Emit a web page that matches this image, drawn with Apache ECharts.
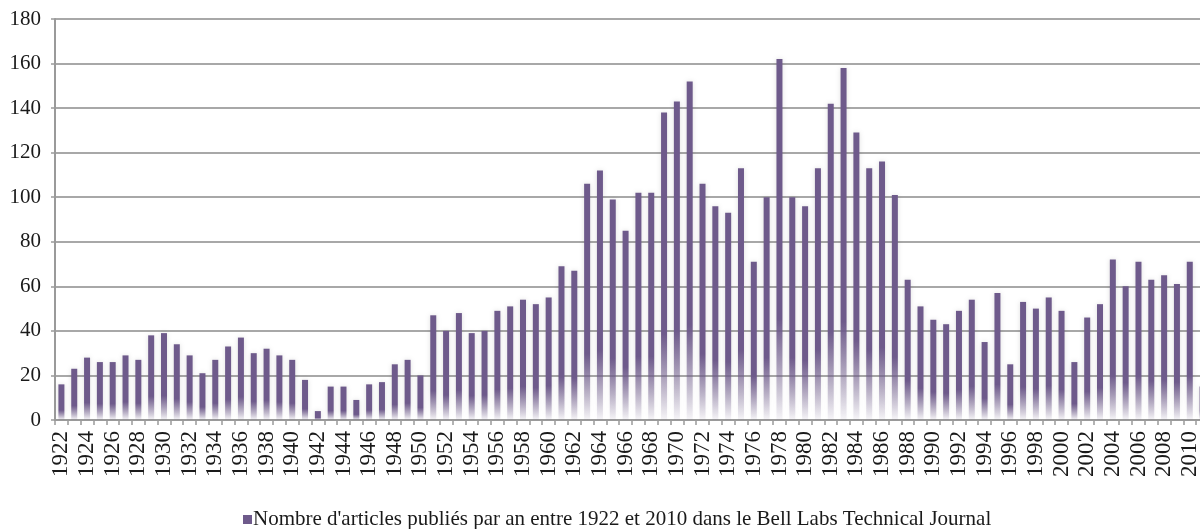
<!DOCTYPE html>
<html>
<head>
<meta charset="utf-8">
<script src="https://cdn.jsdelivr.net/npm/echarts@6/dist/echarts.min.js"></script>
<style>
  html, body { margin: 0; padding: 0; background: #fff; }
  #chart { width: 1200px; height: 529px; }
</style>
</head>
<body>
<div id="chart"></div>
<script>
// années 1922 -> 2011 (la dernière barre est coupée au bord droit)
const years = []
for (let y = 1922; y <= 2011; y++) years.push(String(y))

const articles = [
  16, 23, 28, 26, 26, 29, 27, 38, 39, 34,   // 1922-1931
  29, 21, 27, 33, 37, 30, 32, 29, 27, 18,   // 1932-1941
  4, 15, 15, 9, 16, 17, 25, 27, 20, 47,     // 1942-1951
  40, 48, 39, 40, 49, 51, 54, 52, 55, 69,   // 1952-1961
  67, 106, 112, 99, 85, 102, 102, 138, 143, 152, // 1962-1971
  106, 96, 93, 113, 71, 100, 162, 100, 96, 113,  // 1972-1981
  142, 158, 129, 113, 116, 101, 63, 51, 45, 43,  // 1982-1991
  49, 54, 35, 57, 25, 53, 50, 55, 49, 26,   // 1992-2001
  46, 52, 72, 60, 71, 63, 65, 61, 71, 15    // 2002-2011
]

const seriesName = "Nombre d'articles publiés par an entre 1922 et 2010 dans le Bell Labs Technical Journal"

const purple = '#6E5A8B'
const font = '"Liberation Serif", "DejaVu Serif", serif'

const chart = echarts.init(document.getElementById('chart'))

const option = {
  animation: false,
  textStyle: { fontFamily: font },
  grid: {
    left: 55,
    top: 19,
    bottom: 109,
    width: 1154,
    outerBoundsMode: 'none',
    containLabel: false
  },
  legend: {
    left: 238,
    top: 504,
    icon: 'rect',
    itemWidth: 9,
    itemHeight: 9,
    itemGap: 4,
    itemStyle: { color: purple, shadowBlur: 0 },
    textStyle: { fontFamily: font, fontSize: 21, color: '#1a1a1a', padding: [0, 0, 0, -4] },
    data: [seriesName]
  },
  xAxis: {
    type: 'category',
    data: years,
    axisLine: { lineStyle: { color: '#9a9a9a', width: 2 } },
    axisTick: { show: true, interval: 0, length: 5, lineStyle: { color: '#9a9a9a', width: 1.5 } },
    axisLabel: {
      interval: 1,
      rotate: 90,
      margin: 11,
      fontFamily: font,
      fontSize: 23,
      color: '#1a1a1a'
    },
    splitLine: { show: false }
  },
  yAxis: {
    type: 'value',
    min: 0,
    max: 180,
    interval: 20,
    axisLine: { show: true, lineStyle: { color: '#9a9a9a', width: 2 } },
    axisTick: { show: true, length: 4, lineStyle: { color: '#9a9a9a', width: 1.5 } },
    axisLabel: {
      margin: 14,
      fontFamily: font,
      fontSize: 21,
      color: '#1a1a1a'
    },
    splitLine: { lineStyle: { color: '#a8a8a8', width: 2 } }
  },
  series: [{
    name: seriesName,
    type: 'bar',
    data: articles,
    barWidth: 6,
    itemStyle: {
      color: new echarts.graphic.LinearGradient(0, 0, 0, 1, [
        { offset: 0, color: purple },
        { offset: 0.72, color: purple },
        { offset: 1, color: 'rgba(110, 90, 139, 0.05)' }
      ]),
      shadowColor: 'rgba(0, 0, 0, 0.13)',
      shadowBlur: 5
    }
  }]
}

chart.setOption(option)
</script>
</body>
</html>
